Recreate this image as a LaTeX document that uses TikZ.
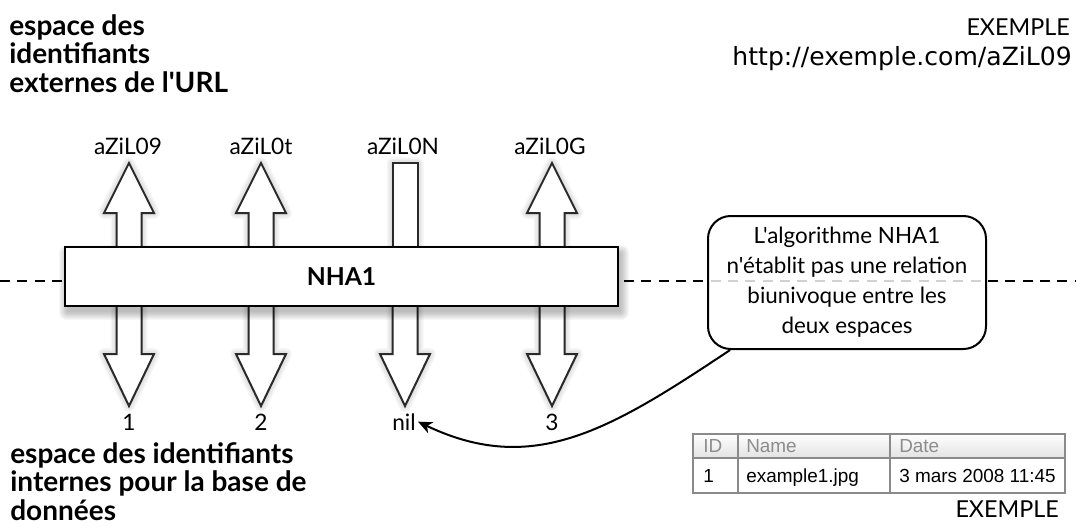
\documentclass[tikz,border=0pt]{standalone}
\usepackage{fontspec}
\setmainfont{Lato}[Ligatures=TeXOff]
\newfontfamily\tablefont{Liberation Sans}
\newfontfamily\urlfont{DejaVu Sans}
\usetikzlibrary{arrows.meta}
\definecolor{inkline}{HTML}{2A2A2A}
\definecolor{gridgray}{HTML}{8A8A8A}
\definecolor{headtext}{HTML}{8C8C8C}
\tikzset{
  fatarrow/.style={draw=inkline, line width=1.5pt, fill=white, line join=miter},
  glow/.style={draw=black, line join=round, opacity=0.035},
  heading/.style={font=\fontsize{21}{21.5}\selectfont\bfseries, align=left, inner sep=0pt},
  plain/.style={font=\fontsize{17}{20}\selectfont, inner sep=1.5pt},
  example/.style={font=\fontsize{17.5}{20}\selectfont, inner sep=0pt},
  cell/.style={font=\tablefont\fontsize{14.2}{16}\selectfont, inner sep=0pt, anchor=base west},
  pics/upfat/.style={code={
    \foreach \w in {3,6,9,12}
      \draw[glow, line width=\w*0.75pt] (-12.5,262) -- (-12.5,213) -- (-25,213) -- (0,163) -- (25,213) -- (12.5,213) -- (12.5,262);
    \draw[fatarrow] (-12.5,262) -- (-12.5,213) -- (-25,213) -- (0,163) -- (25,213) -- (12.5,213) -- (12.5,262) -- cycle;
  }},
  pics/upbar/.style={code={
    \foreach \w in {3,6,9,12}
      \draw[glow, line width=\w*0.75pt] (-12.5,262) -- (-12.5,163) -- (12.5,163) -- (12.5,262);
    \draw[fatarrow] (-12.5,262) rectangle (12.5,163);
  }},
  pics/downfat/.style={code={
    \foreach \w in {3,6,9,12}
      \draw[glow, line width=\w*0.75pt] (-12.5,292) -- (-12.5,354) -- (-25,354) -- (0,406) -- (25,354) -- (12.5,354) -- (12.5,292);
    \draw[fatarrow] (-12.5,292) -- (-12.5,354) -- (-25,354) -- (0,406) -- (25,354) -- (12.5,354) -- (12.5,292) -- cycle;
  }},
}
\begin{document}
\begin{tikzpicture}[x=0.75pt, y=-0.75pt]
\useasboundingbox (0,0) rectangle (1076,529);

% separation between the two identifier spaces
\draw[line width=1.5pt, dash pattern=on 7.5pt off 5.5pt] (0,281) -- (1076,281);

% headings
\node[heading, anchor=north west] (ext) at (9,14)
  {espace des\\identifiants\\externes de l'URL};
\node[heading, anchor=north west] (int) at (10,442)
  {espace des identifiants\\internes pour la base de\\données};

% example URL
\node[example, anchor=base east] (ex1) at (1070,35) {EXEMPLE};
\node[anchor=base east, inner sep=0pt, font=\urlfont\fontsize{18.8}{20}\selectfont]
  (url) at (1072,65) {http://exemple.com/aZiL09};

% fat arrows to and from the hash function
\pic at (129,0) {upfat};
\pic at (261,0) {upfat};
\pic at (405,0) {upbar};
\pic at (552,0) {upfat};
\pic at (129,0) {downfat};
\pic at (261,0) {downfat};
\pic at (405,0) {downfat};
\pic at (552,0) {downfat};

% external identifiers
\node[plain, anchor=base] (k1) at (128,154) {aZiL09};
\node[plain, anchor=base] (k2) at (261,154) {aZiL0t};
\node[plain, anchor=base] (k3) at (403,154) {aZiL0N};
\node[plain, anchor=base] (k4) at (550,154) {aZiL0G};

% internal identifiers
\node[plain, anchor=base] (v1) at (129,430) {1};
\node[plain, anchor=base] (v2) at (261,430) {2};
\node[plain, anchor=base] (nil) at (404,430) {nil};
\node[plain, anchor=base] (v3) at (552,430) {3};

% soft shadow of the hash box
\foreach \k in {0,...,8}
  \fill[black, opacity=0.03, rounded corners=\k*0.75pt]
    (67-\k,253-\k) rectangle (621+\k,312+\k);
\node[draw=black, line width=1.5pt, fill=white, minimum width=553*0.75pt,
      minimum height=59*0.75pt, inner sep=0pt,
      font=\fontsize{18.5}{20}\selectfont\bfseries] (hash) at (341.5,276.5) {NHA1};

% remark
\node[draw=black, line width=1.5pt, fill=white, fill opacity=0.82, text opacity=1,
      rounded corners=17pt, minimum width=278*0.75pt, minimum height=133*0.75pt,
      align=center, font=\fontsize{16.8}{22.5}\selectfont, inner sep=0pt] (note) at (847,282.5)
  {L'algorithme NHA1\\n'établit pas une relation\\biunivoque entre les\\deux espaces};
\draw[line width=1.5pt, -{Stealth[length=10.5pt, width=9pt, inset=3pt]}]
  (note.210) .. controls +(-120,80) and +(115,55) .. (nil.east);

% sample row of the table
\shade[top color=white, bottom color=black!11] (693,433.5) rectangle (1065,457.5);
\draw[gridgray, line width=1.5pt] (693,433.5) rectangle (1065,492.5);
\draw[gridgray, line width=1.5pt] (693,457.5) -- (1065,457.5);
\draw[gridgray, line width=1.5pt] (737.5,433.5) -- (737.5,492.5);
\draw[gridgray, line width=1.5pt] (890,433.5) -- (890,492.5);
\node[cell, text=headtext] (hid) at (703,452) {ID};
\node[cell, text=headtext] (hname) at (746,452) {Name};
\node[cell, text=headtext] (hdate) at (899,452) {Date};
\node[cell] (rid) at (703,482) {1};
\node[cell] (rname) at (746,482) {example1.jpg};
\node[cell] (rdate) at (899,482) {3 mars 2008 11:45};
\node[example, anchor=base east] (ex2) at (1059,517) {EXEMPLE};
\end{tikzpicture}
\end{document}
